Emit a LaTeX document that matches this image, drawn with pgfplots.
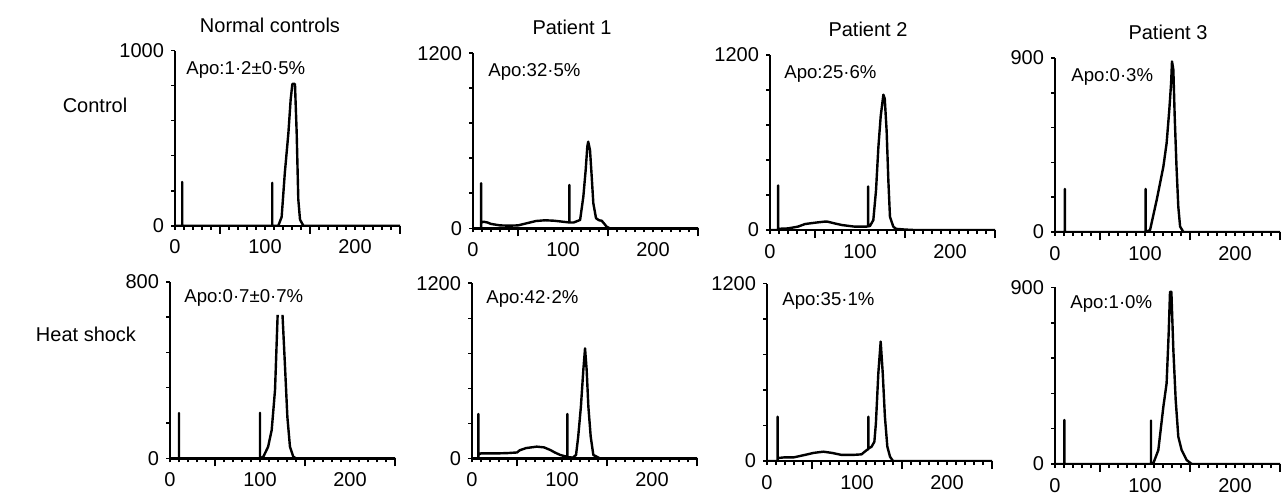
\documentclass[border=0pt]{standalone}
\usepackage{fontspec}
\setmainfont{Liberation Sans}
\usepackage{pgfplots}
\pgfplotsset{compat=1.18}

\pgfplotsset{
  facs/.style={
    scale only axis, width=112.5pt, height=87.5pt,
    anchor=south west,
    xmin=0, xmax=250, ymin=0,
    axis x line=bottom, axis y line=left,
    axis line style={-, black, line width=1.2pt},
    x axis line style={-, black, line width=1.2pt},
    y axis line style={-, black, line width=1.2pt},
    tick align=outside,
    every tick/.style={black, line width=0.8pt},
    major tick length=2pt, minor tick length=2pt,
    xtick={0,100,200}, xticklabels={0,100,200},
    minor xtick={10,20,...,240},
    extra x ticks={50,150,250}, extra x tick labels={},
    extra x tick style={major tick length=4pt},
    tick label style={font=\fontsize{10}{12}\selectfont},
    xticklabel shift=1.5pt,
    /pgf/number format/assume math mode=true,
  },
  trace/.style={black, line width=1.2pt, line join=round, no marks},
}

\begin{document}
\begin{tikzpicture}
\useasboundingbox (0,0) rectangle (643pt,249.5pt);

% row 1: control
\begin{axis}[facs, at={(87.5pt,136.65pt)}, ymax=1000,
  ytick={0,1000}, yticklabels={0,1000}, minor ytick={200,400,600,800}]
\addplot[trace] coordinates {(0,0)(8,0)(8,250)(8,0)(108,0)(108,245)(108,0)(114.8,0)(118.5,50)(122,300)(126,530)(128.5,720)(130.4,810)(133.3,810)(135.2,530)(137,150)(138.9,35)(142.6,0)(250,0)};
\end{axis}

\begin{axis}[facs, at={(236.5pt,135.35pt)}, ymax=1200,
  ytick={0,1200}, yticklabels={0,1200}, minor ytick={240,480,720,960}]
\addplot[trace] coordinates {(0,0)(9,0)(9,309)(9,40)(12,45)(16,40)(20,30)(25,25)(30,20)(40,18)(50,20)(60,35)(70,50)(80,55)(90,52)(100,45)(107,40)(107,297)(107,40)(112,40)(116,50)(119,57)(122.6,217)(125.2,400)(127,560)(128,594)(130,537)(131.9,354)(133.7,171)(136.7,69)(140,55)(143,52)(146,30)(148.5,11)(152,0)(250,0)};
\end{axis}

\begin{axis}[facs, at={(385pt,134.5pt)}, ymax=1200,
  ytick={0,1200}, yticklabels={0,1200}, minor ytick={240,480,720,960}]
\addplot[trace] coordinates {(0,0)(9,0)(9,306)(9,8)(20,11)(31,23)(39,41)(50,50)(60,57)(64,57)(72,45)(80,34)(94,23)(107,23)(109,25)(109,299)(109,27)(111,27)(114.8,68)(117.8,272)(120.4,566)(123,780)(126,928)(127.5,900)(129.6,679)(131.5,340)(133.3,90)(137,23)(140,8)(150,3)(160,0)(250,0)};
\end{axis}

\begin{axis}[facs, at={(527.5pt,133.5pt)}, height=87pt, ymax=900,
  ytick={0,900}, yticklabels={0,900}, minor ytick={180,360,540,720}]
\addplot[trace] coordinates {(0,0)(11,0)(11,223)(11,0)(100.7,0)(100.7,223)(100.7,0)(105.6,10)(113,166)(120.4,338)(124,459)(127,632)(129,770)(130,882)(131.5,839)(133,597)(135,338)(137,131)(139,28)(142.6,0)(250,0)};
\end{axis}

% row 2: heat shock
\begin{axis}[facs, at={(85pt,20.35pt)}, height=88.3pt, ymax=800,
  ytick={0,800}, yticklabels={0,800}, minor ytick={160,320,480,640}]
\addplot[trace] coordinates {(0,0)(10,0)(10,205)(10,0)(100,0)(100,206)(100,0)(103.7,7)(109,52)(113,128)(116.7,310)(119.6,650)};
\addplot[trace] coordinates {(125,650)(127.8,415)(130.4,188)(133.3,52)(137,7)(140,0)(250,0)};
\end{axis}

\begin{axis}[facs, at={(236pt,20.35pt)}, ymax=1200,
  ytick={0,1200}, yticklabels={0,1200}, minor ytick={240,480,720,960}]
\addplot[trace] coordinates {(0,0)(7,0)(7,304)(7,25)(10,34)(20,34)(30,34)(40,36)(50,40)(53,55)(60,70)(72,80)(80,75)(87,57)(92,40)(98,23)(105,11)(106,11)(106,304)(106,8)(112,5)(115.6,23)(118,148)(121,354)(123.7,606)(125.6,754)(127.4,606)(129.3,354)(131.9,148)(134.8,23)(142,0)(250,0)};
\end{axis}

\begin{axis}[facs, at={(383.5pt,19pt)}, height=88.7pt, ymax=1200,
  ytick={0,1200}, yticklabels={0,1200}, minor ytick={240,480,720,960}]
\addplot[trace] coordinates {(0,0)(11.8,0)(11.8,300)(11.8,20)(20,25)(30,25)(42,41)(52,55)(62.6,63)(72,55)(83,41)(95,41)(105,45)(110.8,74)(112.6,80)(112.6,300)(112.6,85)(116,95)(119.3,130)(121,255)(123.7,594)(126.3,808)(128.6,594)(131,300)(133.7,97)(136.7,29)(140,0)(250,0)};
\end{axis}

\begin{axis}[facs, at={(527.5pt,17.5pt)}, height=88.3pt, ymax=900,
  ytick={0,900}, yticklabels={0,900}, minor ytick={180,360,540,720}]
\addplot[trace] coordinates {(0,0)(10.4,0)(10.4,224)(10.4,0)(106.7,0)(106.7,221)(106.7,0)(109.3,4)(114.8,71)(120.4,292)(124,411)(126.3,666)(127.8,878)(129.3,878)(131.5,581)(134.1,326)(137,139)(140.7,71)(146.3,20)(151.9,0)(250,0)};
\end{axis}

% column titles and row labels
\begin{scope}[every node/.style={font=\fontsize{10}{12}\selectfont, inner sep=0pt}]
\node[anchor=base] at (135pt,233pt) {Normal controls};
\node[anchor=base] at (286pt,232pt) {Patient 1};
\node[anchor=base] at (434pt,231pt) {Patient 2};
\node[anchor=base] at (584pt,229.5pt) {Patient 3};
\node[anchor=base] at (47.5pt,193pt) {Control};
\node[anchor=base] at (43pt,79pt) {Heat shock};
\end{scope}

\begin{scope}[every node/.style={font=\fontsize{9.3}{11}\selectfont, inner sep=0pt, anchor=base west}]
\node at (93pt,212pt) {Apo:1·2±0·5\%};
\node at (244pt,211pt) {Apo:32·5\%};
\node at (392pt,210pt) {Apo:25·6\%};
\node at (535.5pt,208.5pt) {Apo:0·3\%};
\node at (92pt,98.5pt) {Apo:0·7±0·7\%};
\node at (243pt,98pt) {Apo:42·2\%};
\node at (391pt,97pt) {Apo:35·1\%};
\node at (535pt,95.5pt) {Apo:1·0\%};
\end{scope}
\end{tikzpicture}
\end{document}
